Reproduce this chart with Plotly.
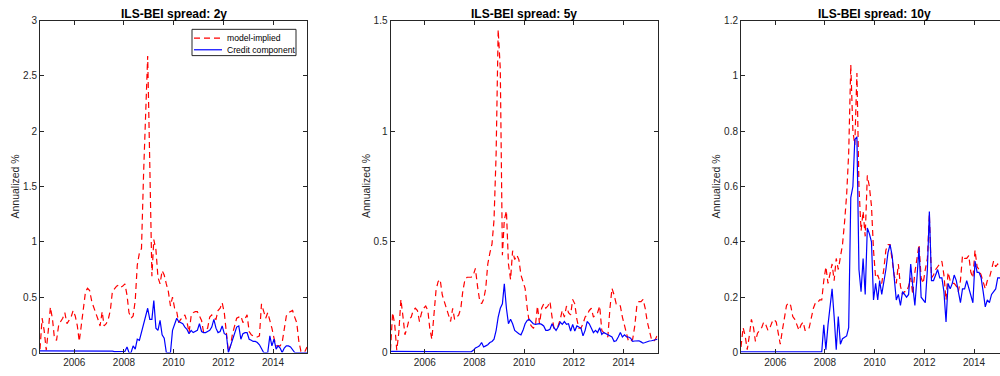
import pandas as pd
import plotly.graph_objects as go

# Monthly observations, mid-month, Jul 2004 .. Apr 2015
dates = pd.date_range("2004-07-15", periods=130, freq="MS") + pd.Timedelta(days=14)

model_2y = [0.03, 0.31, 0.20, 0.02, 0.20, 0.41, 0.30, 0.13, 0.11, 0.24,
            0.28, 0.31, 0.36, 0.26, 0.29, 0.32, 0.38, 0.33, 0.24, 0.10,
            0.25, 0.40, 0.55, 0.58, 0.56, 0.46, 0.40, 0.35, 0.30, 0.24,
            0.37, 0.24, 0.26, 0.30, 0.38, 0.55, 0.58, 0.60, 0.61, 0.59,
            0.60, 0.62, 0.52, 0.36, 0.31, 0.33, 0.47, 0.79, 0.90, 0.94,
            1.60, 2.10, 2.68, 1.70, 0.69, 1.02, 0.93, 0.68, 0.62, 0.74,
            0.70, 0.62, 0.55, 0.42, 0.50, 0.40, 0.37, 0.27, 0.30, 0.31,
            0.34, 0.28, 0.18, 0.33, 0.36, 0.37, 0.37, 0.33, 0.29, 0.19,
            0.20, 0.22, 0.32, 0.34, 0.31, 0.30, 0.38, 0.40, 0.45, 0.36,
            0.15, 0.01, 0.06, 0.17, 0.24, 0.31, 0.32, 0.33, 0.27, 0.31,
            0.34, 0.19, 0.16, 0.15, 0.14, 0.14, 0.15, 0.44, 0.38, 0.31,
            0.36, 0.30, 0.22, 0.13, 0.06, 0.06, 0.06, 0.09, 0.20, 0.33,
            0.36, 0.37, 0.38, 0.32, 0.27, 0.10, 0.01, 0.00, 0.01, 0.05]

credit_2y = [0.015, 0.015, 0.015, 0.015, 0.015, 0.015, 0.015, 0.015, 0.015, 0.015,
             0.015, 0.015, 0.015, 0.015, 0.015, 0.015, 0.015, 0.015, 0.015, 0.015,
             0.015, 0.012, 0.012, 0.012, 0.012, 0.012, 0.012, 0.012, 0.012, 0.012,
             0.012, 0.012, 0.012, 0.012, 0.012, 0.012, 0.008, 0.008, 0.008, 0.008,
             0.008, 0.010, 0.05, 0.00, 0.00, 0.06, 0.03, 0.12, 0.11, 0.18,
             0.25, 0.33, 0.40, 0.30, 0.30, 0.47, 0.22, 0.20, 0.29, 0.16,
             0.13, 0.00, 0.00, 0.00, 0.20, 0.25, 0.31, 0.28, 0.27, 0.26,
             0.23, 0.21, 0.17, 0.20, 0.18, 0.19, 0.20, 0.26, 0.19, 0.18,
             0.18, 0.19, 0.20, 0.23, 0.30, 0.22, 0.18, 0.19, 0.24, 0.17,
             0.16, 0.00, 0.06, 0.11, 0.18, 0.23, 0.24, 0.12, 0.17, 0.18,
             0.18, 0.12, 0.11, 0.10, 0.10, 0.09, 0.07, 0.03, 0.00, 0.00,
             0.00, 0.15, 0.06, 0.12, 0.03, 0.06, 0.04, 0.00, 0.04, 0.06,
             0.06, 0.05, 0.03, 0.00, 0.00, 0.00, 0.00, 0.00, 0.00, 0.00]

model_5y = [0.01, 0.18, 0.13, 0.01, 0.09, 0.24, 0.16, 0.08, 0.11, 0.15,
            0.16, 0.19, 0.20, 0.19, 0.14, 0.18, 0.20, 0.21, 0.19, 0.11,
            0.06, 0.18, 0.28, 0.32, 0.33, 0.26, 0.23, 0.21, 0.17, 0.14,
            0.20, 0.15, 0.16, 0.17, 0.20, 0.28, 0.33, 0.34, 0.34, 0.34,
            0.35, 0.38, 0.30, 0.24, 0.22, 0.24, 0.29, 0.40, 0.45, 0.49,
            0.60, 0.90, 1.46, 1.28, 0.44, 0.60, 0.64, 0.40, 0.33, 0.46,
            0.42, 0.44, 0.42, 0.35, 0.32, 0.29, 0.20, 0.14, 0.12, 0.11,
            0.12, 0.21, 0.13, 0.20, 0.22, 0.20, 0.21, 0.23, 0.16, 0.11,
            0.11, 0.12, 0.15, 0.19, 0.16, 0.21, 0.18, 0.17, 0.24, 0.22,
            0.15, 0.11, 0.11, 0.13, 0.16, 0.17, 0.19, 0.20, 0.16, 0.17,
            0.18, 0.21, 0.10, 0.09, 0.08, 0.07, 0.20, 0.29, 0.26, 0.22,
            0.22, 0.21, 0.16, 0.12, 0.09, 0.05, 0.05, 0.06, 0.12, 0.21,
            0.23, 0.23, 0.24, 0.20, 0.14, 0.10, 0.06, 0.05, 0.06, 0.08]

credit_5y = [0.005, 0.005, 0.005, 0.005, 0.005, 0.005, 0.005, 0.005, 0.005, 0.005,
             0.005, 0.005, 0.005, 0.005, 0.005, 0.005, 0.005, 0.005, 0.005, 0.005,
             0.005, 0.004, 0.004, 0.004, 0.004, 0.004, 0.004, 0.004, 0.004, 0.004,
             0.004, 0.004, 0.004, 0.004, 0.004, 0.004, 0.004, 0.004, 0.004, 0.003,
             0.010, 0.020, 0.025, 0.030, 0.045, 0.025, 0.030, 0.035, 0.045, 0.050,
             0.060, 0.100, 0.160, 0.200, 0.220, 0.310, 0.200, 0.130, 0.150, 0.130,
             0.100, 0.090, 0.085, 0.080, 0.100, 0.130, 0.145, 0.150, 0.140, 0.130,
             0.127, 0.130, 0.130, 0.127, 0.120, 0.100, 0.100, 0.105, 0.130, 0.112,
             0.100, 0.115, 0.137, 0.127, 0.140, 0.127, 0.130, 0.097, 0.127, 0.097,
             0.120, 0.115, 0.110, 0.075, 0.100, 0.140, 0.130, 0.110, 0.090, 0.100,
             0.090, 0.112, 0.082, 0.090, 0.085, 0.080, 0.075, 0.070, 0.050, 0.053,
             0.070, 0.090, 0.070, 0.080, 0.070, 0.070, 0.065, 0.050, 0.052, 0.053,
             0.053, 0.048, 0.042, 0.045, 0.050, 0.052, 0.053, 0.055, 0.058, 0.060]

model_10y = [0.02, 0.09, 0.06, 0.01, 0.06, 0.12, 0.09, 0.04, 0.07, 0.08,
             0.09, 0.11, 0.10, 0.08, 0.09, 0.11, 0.12, 0.11, 0.07, 0.03,
             0.08, 0.13, 0.17, 0.18, 0.17, 0.13, 0.12, 0.10, 0.08, 0.10,
             0.11, 0.08, 0.08, 0.09, 0.13, 0.16, 0.18, 0.18, 0.19, 0.19,
             0.26, 0.31, 0.25, 0.28, 0.32, 0.26, 0.34, 0.30, 0.35, 0.39,
             0.47, 0.57, 0.72, 1.04, 0.80, 0.75, 1.01, 0.60, 0.44, 0.51,
             0.42, 0.64, 0.60, 0.53, 0.37, 0.27, 0.28, 0.26, 0.25, 0.30,
             0.37, 0.39, 0.39, 0.34, 0.28, 0.25, 0.32, 0.24, 0.21, 0.22,
             0.22, 0.24, 0.27, 0.21, 0.29, 0.34, 0.39, 0.27, 0.25, 0.30,
             0.34, 0.50, 0.27, 0.28, 0.30, 0.31, 0.32, 0.33, 0.28, 0.19,
             0.29, 0.26, 0.25, 0.25, 0.24, 0.22, 0.26, 0.35, 0.34, 0.34,
             0.35, 0.29, 0.27, 0.37, 0.31, 0.30, 0.28, 0.25, 0.23, 0.26,
             0.27, 0.30, 0.33, 0.31, 0.32, 0.31, 0.30, 0.31, 0.32, 0.31]

credit_10y = [0.002, 0.002, 0.002, 0.002, 0.002, 0.002, 0.002, 0.002, 0.002, 0.002,
              0.002, 0.002, 0.002, 0.002, 0.002, 0.002, 0.002, 0.002, 0.002, 0.002,
              0.002, 0.002, 0.002, 0.002, 0.002, 0.002, 0.002, 0.002, 0.002, 0.002,
              0.002, 0.002, 0.002, 0.002, 0.002, 0.002, 0.002, 0.002, 0.002, 0.002,
              0.10, 0.01, 0.10, 0.17, 0.23, 0.13, 0.01, 0.13, 0.03, 0.05,
              0.055, 0.06, 0.09, 0.56, 0.60, 0.77, 0.78, 0.30, 0.22, 0.34,
              0.21, 0.45, 0.43, 0.40, 0.19, 0.25, 0.19, 0.26, 0.21, 0.25,
              0.30, 0.36, 0.39, 0.35, 0.28, 0.19, 0.21, 0.17, 0.22, 0.21,
              0.20, 0.21, 0.32, 0.24, 0.17, 0.27, 0.38, 0.20, 0.19, 0.18,
              0.30, 0.51, 0.26, 0.26, 0.28, 0.30, 0.27, 0.27, 0.22, 0.11,
              0.25, 0.23, 0.25, 0.28, 0.26, 0.22, 0.18, 0.23, 0.23, 0.26,
              0.23, 0.20, 0.18, 0.33, 0.29, 0.29, 0.27, 0.22, 0.165, 0.19,
              0.18, 0.21, 0.22, 0.23, 0.27, 0.27, 0.26, 0.27, 0.28, 0.28]

titles = ["ILS-BEI spread: 2y", "ILS-BEI spread: 5y", "ILS-BEI spread: 10y"]
y_ranges = [[0, 3], [0, 1.5], [0, 1.2]]
y_dticks = [0.5, 0.5, 0.2]
model_series = [model_2y, model_5y, model_10y]
credit_series = [credit_2y, credit_5y, credit_10y]
legend_names = ["model-implied", "Credit component"]
y_label = "Annualized %"

W, H = 1000, 376
FONT = "Liberation Sans, Arial, Helvetica, sans-serif"
AXC = "#262626"
RED, BLUE = "#FF0000", "#0000FF"
RED_DASH = "6px,4px"

# pixel geometry of the axes boxes
box_left = [40, 390.5, 741]
box_width = 267
box_top, box_bottom = 16, 357

fig = go.Figure()

t0, t1 = dates[0], dates[-1]
span = t1 - t0

for k in range(3):
    xa = "x" if k == 0 else f"x{k+1}"
    ya = "y" if k == 0 else f"y{k+1}"
    fig.add_trace(go.Scatter(
        x=dates, y=model_series[k], mode="lines", name=legend_names[0],
        line=dict(color=RED, width=1.2, dash=RED_DASH),
        xaxis=xa, yaxis=ya, showlegend=False))
    fig.add_trace(go.Scatter(
        x=dates, y=credit_series[k], mode="lines", name=legend_names[1],
        line=dict(color=BLUE, width=1.2),
        xaxis=xa, yaxis=ya, showlegend=False))

    x0 = box_left[k] / W
    x1 = min((box_left[k] + box_width) / W, 1.0)
    frac = (x1 * W - box_left[k]) / box_width
    xr_end = t0 + span * frac

    xkey = "xaxis" if k == 0 else f"xaxis{k+1}"
    ykey = "yaxis" if k == 0 else f"yaxis{k+1}"
    clipped = (box_left[k] + box_width) > W
    fig.layout[xkey] = dict(
        domain=[x0, x1], range=[t0, xr_end], anchor=ya,
        tickmode="linear", tick0="2006-01-01", dtick="M24", tickformat="%Y",
        ticks="inside", ticklen=4, tickcolor=AXC, showline=True, linecolor=AXC,
        linewidth=1, mirror="ticks", showgrid=False, zeroline=False,
        tickfont=dict(family=FONT, size=10, color=AXC))
    fig.layout[ykey] = dict(
        domain=[(H - box_bottom) / H, (H - box_top) / H], range=y_ranges[k],
        anchor=xa, dtick=y_dticks[k], tick0=0,
        ticks="inside", ticklen=4, tickcolor=AXC, showline=True, linecolor=AXC,
        linewidth=1, mirror=(False if clipped else "ticks"),
        showgrid=False, zeroline=False,
        tickfont=dict(family=FONT, size=10, color=AXC))

    fig.add_annotation(
        x=(box_left[k] + box_width / 2) / W, y=(H - 9) / H, xref="paper", yref="paper",
        text=f"<b>{titles[k]}</b>", showarrow=False, xanchor="center", yanchor="middle",
        font=dict(family=FONT, size=12, color="#000000"))
    fig.add_annotation(
        x=(box_left[k] - 25) / W, y=(H - (box_top + box_bottom) / 2) / H,
        xref="paper", yref="paper", text=y_label, textangle=-90, showarrow=False,
        xanchor="center", yanchor="middle",
        font=dict(family=FONT, size=10.5, color=AXC))

# legend box drawn in the first panel (paper pixel coordinates)
lg_x0, lg_x1, lg_y0, lg_y1 = 192, 296, 25, 52
fig.add_shape(type="rect", xref="paper", yref="paper",
              x0=lg_x0 / W, x1=lg_x1 / W, y0=(H - lg_y1) / H, y1=(H - lg_y0) / H,
              line=dict(color=AXC, width=1), fillcolor="white", layer="above")
for j, (nm, col, dsh) in enumerate([(legend_names[0], RED, RED_DASH),
                                   (legend_names[1], BLUE, "solid")]):
    yy = (H - (34 + 12 * j)) / H
    fig.add_shape(type="line", xref="paper", yref="paper",
                  x0=194 / W, x1=222 / W, y0=yy, y1=yy,
                  line=dict(color=col, width=1.2, dash=dsh), layer="above")
    fig.add_annotation(x=225 / W, y=yy, xref="paper", yref="paper", text=nm,
                       showarrow=False, xanchor="left", yanchor="middle",
                       font=dict(family=FONT, size=8.6, color="#000000"))

fig.update_layout(
    width=W, height=H, autosize=False,
    margin=dict(l=0, r=0, t=0, b=0),
    paper_bgcolor="white", plot_bgcolor="white",
    showlegend=False,
)

fig.write_html("out.html", config={"displayModeBar": False},
               post_script="document.body.style.margin='0';")
